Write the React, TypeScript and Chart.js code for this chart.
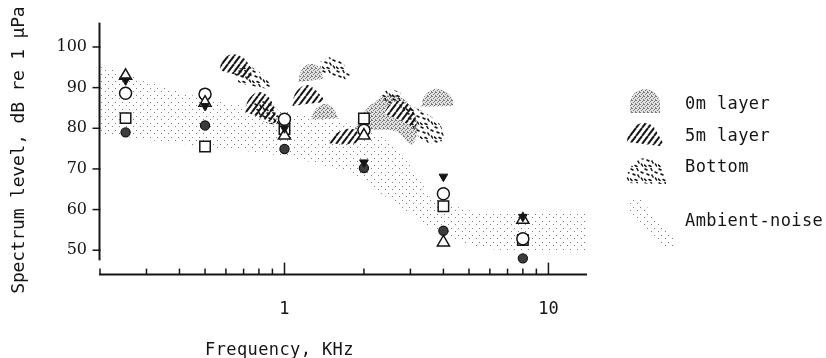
import React, { useEffect, useRef } from "react";
import { Chart, registerables } from "chart.js";

Chart.register(...registerables);

const W = 826;
const H = 358;
const INK = "#151515";
const MONO = '"DejaVu Sans Mono", monospace';
const SERIF = '"DejaVu Serif", serif';

// Measurement frequencies, kHz
const freqs = [0.25, 0.5, 1, 2, 4, 8];

// Spectrum levels, dB re 1 µPa, one list per symbol
const levelsOpenTriangle = [92.9, 86.3, 78.2, 78.2, 51.9, 57.5];
const levelsFilledTriangle = [91.8, 85.5, 80.0, 71.6, 68.1, 58.2];
const levelsOpenCircle = [88.6, 88.4, 82.2, 79.5, 63.9, 52.8];
const levelsOpenSquare = [82.5, 75.5, 79.8, 82.4, 60.8, 52.5];
const levelsFilledCircle = [79.0, 80.7, 74.9, 70.2, 54.8, 48.0];

// Ambient-noise band edges [kHz, dB]
const ambientUpper = [[0.2, 95.3], [0.5, 87.2], [1, 84.1], [2, 80.2], [2.66, 75.5], [3.6, 63.4], [5.1, 59.7], [14, 59.2]];
const ambientLower = [[0.2, 78.5], [0.5, 75.5], [1, 73.1], [1.79, 69.0], [2.39, 63.4], [3.6, 55.3], [5.6, 50.5], [14, 50.0]];

// Spectral peak outlines [kHz, dB]
const layer0m = [
  [[1.13, 91.4], [1.15, 93.8], [1.21, 95.5], [1.3, 95.7], [1.37, 94.5], [1.405, 92.1]],
  [[1.266, 82.1], [1.288, 84.1], [1.357, 85.5], [1.442, 86.0], [1.533, 84.8], [1.602, 82.4]],
  [[1.826, 79.2], [1.957, 83.1], [2.174, 86.3], [2.498, 88.2], [2.824, 87.2], [3.082, 84.1], [3.19, 79.7], [3.028, 76.0], [2.656, 79.2], [2.136, 79.7]],
  [[3.303, 85.3], [3.362, 87.5], [3.542, 89.2], [3.798, 89.7], [4.109, 88.9], [4.329, 87.2], [4.368, 85.5]],
];
const layer5m = [
  [[0.567, 94.3], [0.582, 96.7], [0.63, 98.2], [0.693, 97.5], [0.737, 95.3], [0.743, 92.4], [0.658, 93.1]],
  [[0.706, 84.1], [0.73, 87.0], [0.79, 88.9], [0.855, 88.2], [0.909, 85.5], [0.924, 81.4], [0.804, 82.7]],
  [[1.072, 85.5], [1.091, 88.2], [1.16, 90.2], [1.233, 90.6], [1.322, 89.2], [1.405, 86.8], [1.211, 86.0]],
  [[1.468, 76.3], [1.52, 78.0], [1.644, 79.4], [1.794, 79.9], [1.907, 78.7], [1.874, 76.5], [1.673, 76.0]],
  [[2.392, 83.6], [2.498, 85.8], [2.703, 86.8], [2.924, 86.0], [3.107, 83.6], [3.135, 80.4], [2.727, 82.1]],
];
const layerBottom = [
  [[0.641, 93.8], [0.718, 95.3], [0.804, 93.8], [0.877, 91.4], [0.893, 89.9], [0.75, 90.4], [0.664, 91.4]],
  [[0.763, 86.5], [0.833, 87.0], [0.909, 85.5], [0.974, 83.1], [0.957, 81.1], [0.847, 81.4], [0.777, 83.6]],
  [[1.357, 96.25], [1.481, 97.5], [1.644, 96.25], [1.763, 93.8], [1.732, 92.1], [1.533, 92.8], [1.381, 93.8]],
  [[2.68, 86.5], [3.028, 85.5], [3.451, 83.6], [3.865, 81.1], [4.003, 77.3], [3.605, 76.3], [3.246, 77.7], [2.975, 81.6]],
  [[2.29, 87.5], [2.456, 89.4], [2.727, 88.9], [2.775, 87.0], [2.498, 86.0]],
];

// Axes
const xMin = 0.2;
const xMax = 14;
const yMin = 44;
const yMax = 106;
const yAxisEnd = 47.5;
const yTicks = [50, 60, 70, 80, 90, 100];
const xLabelTicks = [1, 10];
const xMinorTicks = [0.2, 0.3, 0.4, 0.5, 0.6, 0.7, 0.8, 0.9, 2, 3, 4, 5, 6, 7, 8, 9];

const xTitle = "Frequency, KHz";
const yTitle = "Spectrum level, dB re 1 µPa";
const legendLabels = ["0m layer", "5m layer", "Bottom", "Ambient-noise"];

type Pt = number[];

function makeTile(w: number, h: number, paint: (g: CanvasRenderingContext2D) => void): CanvasPattern {
  const c = document.createElement("canvas");
  c.width = w;
  c.height = h;
  const g = c.getContext("2d")!;
  paint(g);
  return g.createPattern(c, "repeat")!;
}

function makePatterns() {
  const stipple0m = makeTile(4, 4, (g) => {
    g.fillStyle = "#e2e2e2";
    g.fillRect(0, 0, 4, 4);
    g.fillStyle = "#7a7a7a";
    for (const [px, py] of [[0, 0], [2, 1], [1, 2], [3, 3], [3, 0]]) g.fillRect(px, py, 1, 1);
  });
  const hatch5m = makeTile(6, 8, (g) => {
    g.fillStyle = "#ffffff";
    g.fillRect(0, 0, 6, 8);
    g.strokeStyle = INK;
    g.lineWidth = 2;
    for (const dx of [-6, 0, 6]) {
      g.beginPath();
      g.moveTo(dx, 8);
      g.lineTo(dx + 6, 0);
      g.stroke();
    }
  });
  const dashesBottom = makeTile(14, 14, (g) => {
    g.strokeStyle = INK;
    g.lineWidth = 1.6;
    g.lineCap = "round";
    const marks = [[1, 1, 3, 2], [7, 0.5, 8, 2.5], [11, 4, 13, 5], [3, 6, 5, 7], [8, 7, 9, 9], [0.5, 11, 2, 12.5], [5, 11.5, 7, 12.5], [11.5, 10, 12.5, 12]];
    for (const [a, b, c, d] of marks) {
      g.beginPath();
      g.moveTo(a, b);
      g.lineTo(c, d);
      g.stroke();
    }
  });
  const dotsAmbient = makeTile(7, 7, (g) => {
    g.fillStyle = "#7c7c7c";
    g.fillRect(0, 0, 1, 1);
    g.fillRect(3, 4, 1, 1);
  });
  return { stipple0m, hatch5m, dashesBottom, dotsAmbient };
}

export default function App() {
  const ref = useRef<HTMLCanvasElement>(null);

  useEffect(() => {
    const canvas = ref.current;
    if (!canvas) return;
    const pat = makePatterns();

    const xy = (pts: Pt[]) => pts.map(([x, y]) => ({ x, y }));
    const markers = (values: number[]) => freqs.map((f, i) => ({ x: f, y: values[i] }));
    const region = (label: string, outline: Pt[], pattern: CanvasPattern, order: number, tension = 0.35) => ({
      label,
      data: xy(outline),
      showLine: true,
      fill: "shape",
      backgroundColor: pattern,
      borderColor: "rgba(0,0,0,0)",
      borderWidth: 0,
      pointRadius: 0,
      tension,
      order,
    });

    const datasets: any[] = [
      region("Ambient-noise", [...ambientUpper, ...ambientLower.slice().reverse()], pat.dotsAmbient, 40, 0.15),
      ...layer0m.map((o) => region("0m layer", o, pat.stipple0m, 30)),
      ...layer5m.map((o) => region("5m layer", o, pat.hatch5m, 20)),
      ...layerBottom.map((o) => region("Bottom", o, pat.dashesBottom, 10)),
      {
        label: "filled circle",
        data: markers(levelsFilledCircle),
        pointStyle: "circle",
        radius: 4.6,
        backgroundColor: "#3c3c3c",
        borderColor: INK,
        borderWidth: 1.2,
        order: 5,
      },
      {
        label: "open square",
        data: markers(levelsOpenSquare),
        pointStyle: "rect",
        radius: 7.4,
        backgroundColor: "#ffffff",
        borderColor: INK,
        borderWidth: 1.5,
        order: 4,
      },
      {
        label: "open circle",
        data: markers(levelsOpenCircle),
        pointStyle: "circle",
        radius: 6,
        backgroundColor: "#ffffff",
        borderColor: INK,
        borderWidth: 1.5,
        order: 3,
      },
      {
        label: "open triangle",
        data: markers(levelsOpenTriangle),
        pointStyle: "triangle",
        radius: 7,
        backgroundColor: "#ffffff",
        borderColor: INK,
        borderWidth: 1.5,
        order: 2,
      },
      {
        label: "filled triangle",
        data: markers(levelsFilledTriangle),
        pointStyle: "triangle",
        rotation: 180,
        radius: 5,
        backgroundColor: INK,
        borderColor: INK,
        borderWidth: 1,
        order: 1,
      },
    ];

    const frame = {
      id: "frame",
      afterDraw(chart: any) {
        const { ctx, chartArea } = chart;
        const xs = chart.scales.x;
        const ys = chart.scales.y;
        ctx.save();
        ctx.strokeStyle = INK;
        ctx.fillStyle = INK;

        // vertical axis with outward ticks
        const x0 = xs.getPixelForValue(xMin) - 0.5;
        ctx.lineWidth = 2;
        ctx.beginPath();
        ctx.moveTo(x0, ys.getPixelForValue(yMax));
        ctx.lineTo(x0, ys.getPixelForValue(yAxisEnd));
        ctx.stroke();
        ctx.lineWidth = 1.5;
        for (const v of yTicks) {
          const py = ys.getPixelForValue(v);
          ctx.beginPath();
          ctx.moveTo(x0 - 7, py);
          ctx.lineTo(x0 + 1, py);
          ctx.stroke();
        }

        // horizontal axis with inward ticks
        const y0 = ys.getPixelForValue(yMin);
        ctx.lineWidth = 2;
        ctx.beginPath();
        ctx.moveTo(xs.getPixelForValue(xMin) - 1, y0);
        ctx.lineTo(xs.getPixelForValue(xMax), y0);
        ctx.stroke();
        ctx.lineWidth = 1.5;
        const tick = (v: number, len: number) => {
          const px = xs.getPixelForValue(v);
          ctx.beginPath();
          ctx.moveTo(px, y0);
          ctx.lineTo(px, y0 - len);
          ctx.stroke();
        };
        for (const v of xMinorTicks) tick(v, 6);
        for (const v of xLabelTicks) tick(v, 12);

        // axis titles
        ctx.font = `17px ${MONO}`;
        (ctx as any).letterSpacing = "0.4px";
        ctx.textAlign = "left";
        ctx.textBaseline = "alphabetic";
        ctx.fillText(xTitle, chartArea.left + 105, 355);

        ctx.save();
        ctx.font = `18px ${MONO}`;
        (ctx as any).letterSpacing = "-0.2px";
        ctx.translate(24, (chartArea.top + chartArea.bottom) / 2 + 1.5);
        ctx.rotate(-Math.PI / 2);
        ctx.textAlign = "center";
        ctx.fillText(yTitle, 0, 0);
        ctx.restore();

        // legend
        const swatches: CanvasPattern[] = [pat.stipple0m, pat.hatch5m, pat.dashesBottom, pat.dotsAmbient];
        const baselines = [109, 141, 172, 226];
        const lx = chartArea.right + 40;
        const shapes = [
          (c: CanvasRenderingContext2D) => {
            c.moveTo(lx + 3, 113);
            c.lineTo(lx + 3, 104);
            c.arc(lx + 18, 104, 15, Math.PI, 0);
            c.lineTo(lx + 33, 113);
            c.closePath();
          },
          (c: CanvasRenderingContext2D) => {
            c.moveTo(lx, 142);
            c.bezierCurveTo(lx, 127, lx + 16, 117, lx + 27, 127);
            c.lineTo(lx + 36, 143);
            c.lineTo(lx + 33, 146);
            c.closePath();
          },
          (c: CanvasRenderingContext2D) => {
            c.moveTo(lx - 1, 183);
            c.bezierCurveTo(lx - 1, 166, lx + 13, 155, lx + 25, 158);
            c.bezierCurveTo(lx + 33, 162, lx + 39, 172, lx + 39, 184);
            c.closePath();
          },
          (c: CanvasRenderingContext2D) => {
            c.moveTo(lx + 3, 200);
            c.lineTo(lx + 14, 200);
            c.lineTo(lx + 47, 238);
            c.lineTo(lx + 47, 248);
            c.lineTo(lx + 37, 248);
            c.lineTo(lx + 3, 213);
            c.closePath();
          },
        ];
        shapes.forEach((draw, i) => {
          ctx.beginPath();
          draw(ctx);
          ctx.fillStyle = swatches[i];
          ctx.fill();
        });
        ctx.fillStyle = INK;
        ctx.font = `17px ${MONO}`;
        (ctx as any).letterSpacing = "0.4px";
        legendLabels.forEach((t, i) => ctx.fillText(t, lx + 58, baselines[i]));
        ctx.restore();
      },
    };

    const chart = new Chart(canvas, {
      type: "scatter",
      data: { datasets },
      options: {
        responsive: false,
        animation: false,
        devicePixelRatio: 1,
        events: [],
        layout: { padding: { left: 0, right: 239, top: 20, bottom: 0 } },
        plugins: { legend: { display: false }, tooltip: { enabled: false } },
        scales: {
          x: {
            type: "logarithmic",
            min: xMin,
            max: xMax,
            grid: { display: false, drawTicks: false },
            border: { display: false },
            afterBuildTicks: (s: any) => {
              s.ticks = xLabelTicks.map((value) => ({ value }));
            },
            afterFit: (s: any) => {
              s.height = H - 274.6;
            },
            ticks: {
              autoSkip: false,
              maxRotation: 0,
              padding: 25,
              color: INK,
              font: { family: MONO, size: 17 },
              callback: (v: any) => String(v),
            },
          },
          y: {
            type: "linear",
            min: yMin,
            max: yMax,
            grid: { display: false, drawTicks: false },
            border: { display: false },
            afterBuildTicks: (s: any) => {
              s.ticks = yTicks.map((value) => ({ value }));
            },
            afterFit: (s: any) => {
              s.width = 100;
            },
            ticks: {
              padding: 13,
              color: INK,
              font: { family: SERIF, size: 16 },
            },
          },
        },
      },
      plugins: [frame],
    });

    return () => chart.destroy();
  }, []);

  return (
    <div style={{ position: "fixed", left: 0, top: 0, width: W, height: H, background: "#ffffff" }}>
      <canvas ref={ref} width={W} height={H} style={{ display: "block" }} />
    </div>
  );
}
